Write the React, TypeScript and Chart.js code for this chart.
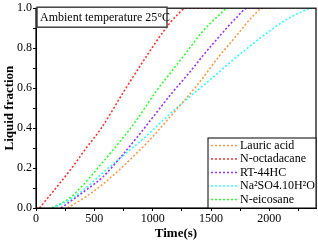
import React, { useEffect, useRef } from "react";
import { Chart, registerables } from "chart.js";

Chart.register(...registerables);

const FONT = "'Liberation Serif', 'Times New Roman', serif";

const seriesLabels = ["Lauric acid", "N-octadacane", "RT-44HC", "Na\u00B2SO4.10H\u00B2O", "N-eicosane"];
const legendText = ["Lauric acid", "N-octadacane", "RT-44HC", "Na\u00B2SO4.10H\u00B2O", "N-eicosane"];
const seriesColors = ["#FF9A4D", "#FF3333", "#9933FF", "#33FFFF", "#33FF33"];

const lauricT = [270, 427, 570, 712, 855, 974, 1130, 1202, 1402, 1573, 1715, 1857, 1943, 2050];
const lauricV = [0, 0.056, 0.118, 0.19, 0.27, 0.34, 0.443, 0.491, 0.63, 0.762, 0.86, 0.959, 1.0, 1.0];

const octaT = [30, 150, 300, 430, 560, 760, 970, 1100, 1200, 1288, 1600];
const octaV = [0, 0.085, 0.195, 0.3, 0.4, 0.59, 0.78, 0.89, 0.96, 1.0, 1.0];

const rtT = [214, 427, 570, 712, 875, 1173, 1259, 1373, 1430, 1573, 1715, 1815, 1950];
const rtV = [0, 0.089, 0.154, 0.245, 0.36, 0.581, 0.639, 0.72, 0.762, 0.86, 0.951, 1.0, 1.0];

const naT = [142, 285, 427, 570, 712, 855, 946, 1045, 1202, 1402, 1487, 1715, 2000, 2143, 2285, 2370, 2400];
const naV = [0, 0.04, 0.1, 0.175, 0.245, 0.315, 0.36, 0.415, 0.499, 0.598, 0.639, 0.754, 0.885, 0.942, 0.984, 1.0, 1.0];

const eicoT = [135, 285, 427, 570, 712, 850, 1031, 1150, 1288, 1430, 1573, 1644, 1800];
const eicoV = [0, 0.048, 0.13, 0.228, 0.327, 0.43, 0.585, 0.675, 0.778, 0.885, 0.967, 1.0, 1.0];

const seriesT = [lauricT, octaT, rtT, naT, eicoT];
const seriesV = [lauricV, octaV, rtV, naV, eicoV];

const annotationText = "Ambient temperature 25\u00B0C";
const xTitle = "Time(s)";
const yTitle = "Liquid fraction";

const decorPlugin = {
  id: "decor",
  afterDraw(chart: any) {
    const ctx = chart.ctx;
    const a = chart.chartArea;
    ctx.save();
    ctx.strokeStyle = "#000";
    ctx.lineWidth = 1.2;
    ctx.strokeRect(a.left, a.top, a.right - a.left, a.bottom - a.top);
    ctx.strokeStyle = "#444";
    ctx.lineWidth = 1.5;
    ctx.fillStyle = "#fff";
    ctx.fillRect(a.left + 1, a.top - 1, 130, 20);
    ctx.strokeRect(a.left + 1, a.top - 1, 130, 20);
    ctx.fillStyle = "#000";
    ctx.font = "12px " + FONT;
    ctx.textBaseline = "middle";
    ctx.textAlign = "left";
    ctx.fillText(annotationText, a.left + 4, a.top + 9.5);
    const lx = a.right - 108;
    const ly = a.bottom - 70;
    ctx.fillStyle = "#fff";
    ctx.fillRect(lx, ly, a.right - lx, a.bottom - ly);
    ctx.strokeStyle = "#000";
    ctx.lineWidth = 1;
    ctx.strokeRect(lx, ly, a.right - lx, a.bottom - ly);
    for (let i = 0; i < legendText.length; i++) {
      const y = ly + 7.5 + i * 13.5;
      ctx.strokeStyle = seriesColors[i];
      ctx.lineWidth = 1.5;
      ctx.setLineDash([2, 2]);
      ctx.beginPath();
      ctx.moveTo(lx + 3, y);
      ctx.lineTo(lx + 30, y);
      ctx.stroke();
      ctx.setLineDash([]);
      ctx.fillStyle = "#000";
      ctx.fillText(legendText[i], lx + 32, y);
    }
    ctx.restore();
  },
};

export default function App() {
  const ref = useRef<HTMLCanvasElement>(null);
  useEffect(() => {
    if (!ref.current) return;
    const datasets = seriesLabels.map((label, i) => ({
      label,
      data: seriesT[i].map((t, j) => ({ x: t, y: seriesV[i][j] })),
      borderColor: seriesColors[i],
      backgroundColor: seriesColors[i],
      borderWidth: 1.6,
      borderDash: [2, 2],
      pointRadius: 0,
      cubicInterpolationMode: "monotone" as const,
      fill: false,
    }));
    const chart = new Chart(ref.current, {
      type: "line",
      data: { datasets },
      options: {
        animation: false,
        responsive: false,
        devicePixelRatio: 1,
        layout: { padding: { left: 2, top: 5, right: 2, bottom: 0 } },
        plugins: { legend: { display: false }, tooltip: { enabled: false } },
        scales: {
          x: {
            type: "linear",
            min: 0,
            max: 2400,
            afterFit: (s: any) => { s.height = 35; },
            ticks: {
              stepSize: 250,
              includeBounds: false,
              autoSkip: false,
              maxRotation: 0,
              padding: 1,
              color: "#000",
              font: { family: FONT, size: 12 },
              callback: (v: any) => (Number(v) % 500 === 0 ? String(v) : ""),
            },
            grid: { drawOnChartArea: false, tickLength: 3, color: "#000" },
            border: { display: true, color: "#000" },
            title: {
              display: true,
              text: xTitle,
              color: "#000",
              font: { family: FONT, size: 13, weight: "bold" },
              padding: { top: 0, bottom: 2 },
            },
          },
          y: {
            type: "linear",
            min: 0,
            max: 1,
            afterFit: (s: any) => { s.width = 34; },
            ticks: {
              stepSize: 0.1,
              autoSkip: false,
              padding: 1,
              color: "#000",
              font: { family: FONT, size: 12 },
              callback: (v: any) => (Math.round(Number(v) * 10) % 2 === 0 ? Number(v).toFixed(1) : ""),
            },
            grid: { drawOnChartArea: false, tickLength: 3, color: "#000" },
            border: { display: true, color: "#000" },
            title: {
              display: true,
              text: yTitle,
              color: "#000",
              font: { family: FONT, size: 13, weight: "bold" },
              padding: { top: 0, bottom: 0 },
            },
          },
        },
      },
      plugins: [decorPlugin],
    });
    return () => chart.destroy();
  }, []);
  return (
    <div style={{ position: "absolute", left: 0, top: 0, width: 318, height: 243, background: "#fff" }}>
      <canvas ref={ref} width={318} height={243} style={{ width: 318, height: 243 }} />
    </div>
  );
}
